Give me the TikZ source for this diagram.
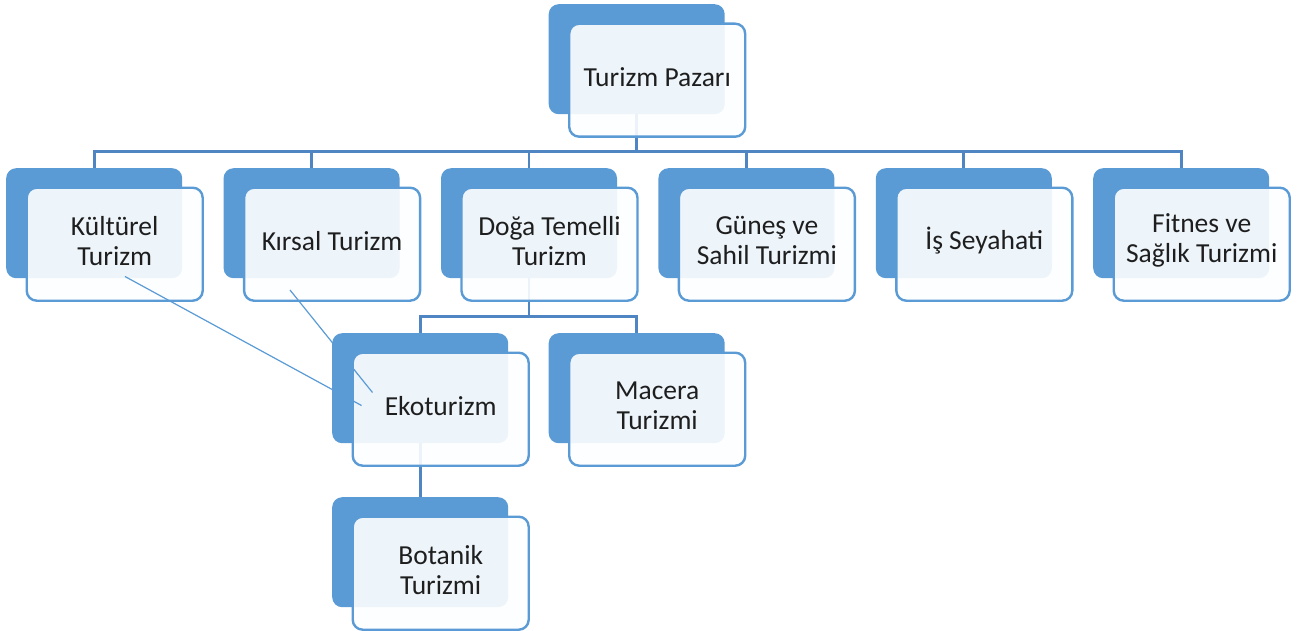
\documentclass[tikz,border=0pt]{standalone}
\usepackage{fontspec}
\setmainfont{Carlito}
\pgfdeclarelayer{bg}
\pgfdeclarelayer{fg}
\pgfdeclarelayer{top}
\pgfsetlayers{bg,main,fg,top}
\definecolor{accent}{HTML}{5B9BD5}
\definecolor{treeline}{HTML}{4F85C2}
\definecolor{panel}{HTML}{FDFEFF}
\definecolor{ink}{HTML}{1E1E1E}
\tikzset{
  backbox/.style={draw=none, fill=accent, rounded corners=10pt,
    minimum width=176pt, minimum height=110pt, anchor=north west, inner sep=0pt},
  frontbox/.style={draw=accent, line width=2.4pt, fill=panel, fill opacity=0.9,
    text opacity=1, rounded corners=10pt, minimum width=176pt, minimum height=113pt,
    anchor=north west, inner sep=0pt},
  cardtext/.style={align=center, text=ink, inner sep=0pt,
    font=\fontsize{27.5}{30}\selectfont},
  tree/.style={draw=treeline, line width=2.8pt},
  link/.style={draw=accent, line width=1.2pt},
}
% one entry: blue back card and the light card in front of it
\newcommand{\cardpair}[4]{%
  \begin{pgfonlayer}{bg}
    \node[backbox] (#1-b) at (#2,#3) {};
  \end{pgfonlayer}
  \begin{pgfonlayer}{fg}
    \node[frontbox] (#1) at (#2+19.5,#3+18.5) {};
    \node[cardtext] (#1-t) at ([yshift=3.5pt]#1.center) {#4};
  \end{pgfonlayer}
}
\begin{document}
\begin{tikzpicture}[x=1pt,y=-1pt]
\useasboundingbox (0,0) rectangle (1305,631);

\cardpair{root}{548.5}{4}{Turizm Pazarı}
\cardpair{kul}{6}{168}{Kültürel\\Turizm}
\cardpair{kir}{223.4}{168}{Kırsal Turizm}
\cardpair{dog}{440.8}{168}{Doğa Temelli\\Turizm}
\cardpair{gun}{658.2}{168}{Güneş ve\\Sahil Turizmi}
\cardpair{is}{875.6}{168}{İş Seyahati}
\cardpair{fit}{1093}{168}{Fitnes ve\\Sağlık Turizmi}
\cardpair{eko}{332}{333}{Ekoturizm}
\cardpair{mac}{548.5}{333}{Macera\\Turizmi}
\cardpair{bot}{332}{497}{Botanik\\Turizmi}

% hierarchy connectors
\coordinate (bus1) at (0,151.5);
\coordinate (bus2) at (0,316.5);
\draw[tree] (root-b.south) -- (root-b.south |- bus1);
\draw[tree, line cap=rect] (kul-b.north |- bus1) -- (fit-b.north |- bus1);
\foreach \n in {kul,kir,dog,gun,is,fit}
  \draw[tree] (\n-b.north |- bus1) -- (\n-b.north);
\draw[tree] (dog-b.south) -- (dog-b.south |- bus2);
\draw[tree, line cap=rect] (eko-b.north |- bus2) -- (mac-b.north |- bus2);
\foreach \n in {eko,mac}
  \draw[tree] (\n-b.north |- bus2) -- (\n-b.north);
\draw[tree] (eko-b.south) -- (bot-b.north);

% cross links into Ekoturizm
\begin{pgfonlayer}{top}
  \coordinate (kulA) at (125,276.5);
  \coordinate (ekoA) at (361.5,405.5);
  \coordinate (kirA) at (290,290);
  \coordinate (ekoB) at (372.5,392.5);
  \draw[link] (kulA) -- (ekoA);
  \draw[link] (kirA) -- (ekoB);
\end{pgfonlayer}
\end{tikzpicture}
\end{document}
